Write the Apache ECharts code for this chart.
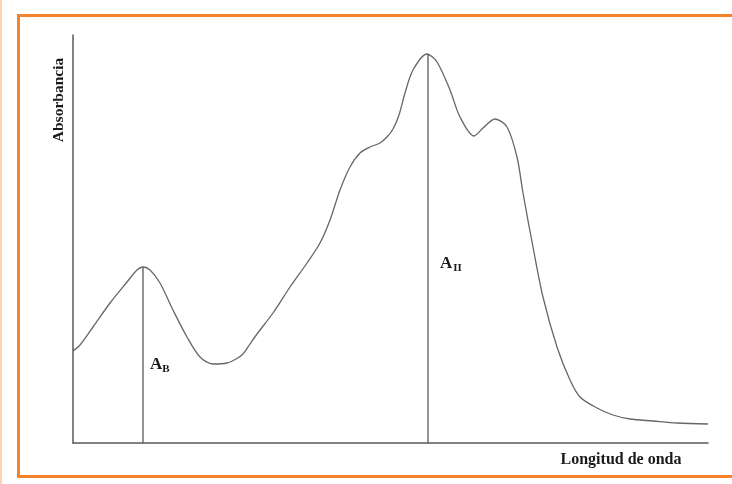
<!DOCTYPE html>
<html>
<head>
<meta charset="utf-8">
<style>
html,body{margin:0;padding:0;background:#fff;}
#c{width:732px;height:484px;}
</style>
<script src="https://cdn.jsdelivr.net/npm/echarts@6/dist/echarts.min.js"></script>
</head>
<body>
<div id="c"></div>
<script>
// Wavelength position (arbitrary units) and absorbance (arbitrary units)
var wavelength = [0, 7, 20, 37, 54, 64, 70, 77, 87, 100, 114, 127, 140, 154, 163, 170, 177, 184, 200, 217, 234, 247, 257, 267, 277, 287, 297, 307, 314, 320, 326, 332, 340, 354, 364, 377, 387, 401, 410, 422, 434, 444, 450, 460, 470, 484, 497, 507, 524, 540, 557, 580, 604, 635];
var absorbance = [92, 98, 116, 140, 161, 173, 176, 173, 160, 133, 106, 86, 79, 80, 84, 89, 99, 109, 130, 156, 180, 200, 223, 253, 276, 290, 296, 300, 306, 314, 328, 350, 373, 389, 381, 353, 326, 307, 315, 324, 316, 286, 250, 196, 146, 96, 63, 46, 35, 28, 24, 22, 20, 19];
var peakB = [70, 176];
var peakII = [355, 389];
var yLabel = 'Absorbancia';
var xLabel = 'Longitud de onda';

var chart = echarts.init(document.getElementById('c'));
var axisColor = '#5a5a5a';
var serif = '"Liberation Serif","DejaVu Serif",serif';
chart.setOption({
  animation: false,
  backgroundColor: '#fff',
  grid: {left: 73, right: 24, top: 35, bottom: 41},
  xAxis: {
    type: 'value', min: 0, max: 635,
    axisLine: {show: true, onZero: false, lineStyle: {color: axisColor, width: 1.5}},
    axisTick: {show: false}, axisLabel: {show: false}, splitLine: {show: false}
  },
  yAxis: {
    type: 'value', min: 0, max: 408,
    axisLine: {show: true, onZero: false, lineStyle: {color: axisColor, width: 1.5}},
    axisTick: {show: false}, axisLabel: {show: false}, splitLine: {show: false}
  },
  series: [
    {
      type: 'line', smooth: 0.3, symbol: 'none',
      data: wavelength.map(function (w, i) { return [w, absorbance[i]]; }),
      lineStyle: {color: '#666', width: 1.3}
    },
    {
      type: 'line', symbol: 'none',
      data: [[peakB[0], 0], [peakB[0], peakB[1]]],
      lineStyle: {color: axisColor, width: 1.3}
    },
    {
      type: 'line', symbol: 'none',
      data: [[peakII[0], 0], [peakII[0], peakII[1]]],
      lineStyle: {color: axisColor, width: 1.3}
    }
  ],
  graphic: [
    {type: 'rect', shape: {x: 0, y: 0, width: 2, height: 484}, style: {fill: '#FCD3B2'}, silent: true},
    {type: 'rect', shape: {x: 18.5, y: 15.5, width: 720, height: 461}, style: {fill: 'none', stroke: '#F5832B', lineWidth: 3}, silent: true},
    {type: 'text', x: 59, y: 100, rotation: Math.PI / 2,
      style: {text: yLabel, font: 'bold 15.5px ' + serif, fill: '#1a1a1a', align: 'center', verticalAlign: 'middle'}},
    {type: 'text', x: 621, y: 460,
      style: {text: xLabel, font: 'bold 16px ' + serif, fill: '#1a1a1a', align: 'center', verticalAlign: 'middle'}},
    {type: 'text', x: 150, y: 355,
      style: {text: '{a|A}{s|B}', rich: {
        a: {font: 'bold 17px ' + serif, fill: '#1a1a1a'},
        s: {font: 'bold 11px ' + serif, fill: '#1a1a1a', padding: [9, 0, 0, 0]}
      }}},
    {type: 'text', x: 440, y: 254,
      style: {text: '{a|A}{s|II}', rich: {
        a: {font: 'bold 17px ' + serif, fill: '#1a1a1a'},
        s: {font: 'bold 11px ' + serif, fill: '#1a1a1a', padding: [9, 0, 0, 1]}
      }}}
  ]
});
</script>
</body>
</html>
